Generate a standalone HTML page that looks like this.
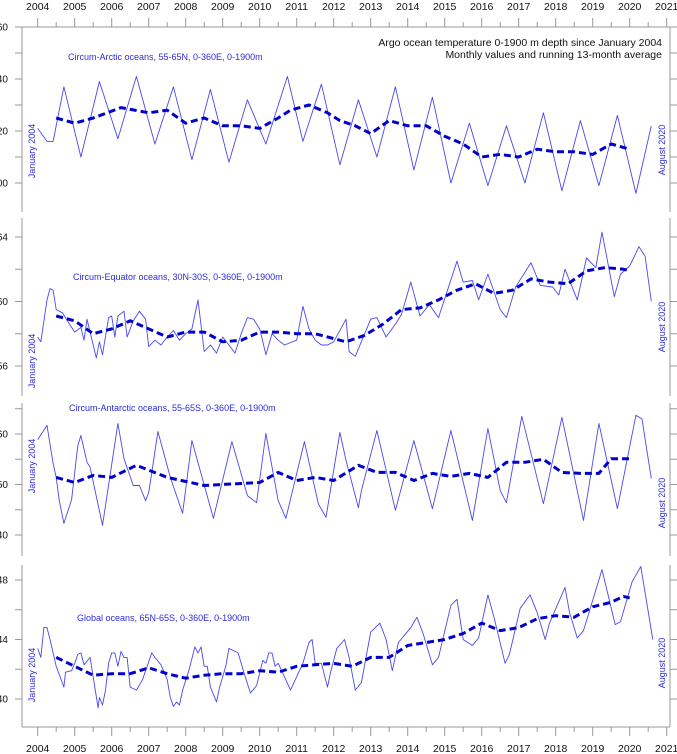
<!DOCTYPE html>
<html><head><meta charset="utf-8"><style>
body{margin:0;background:#fff;}
svg{display:block;font-family:"Liberation Sans",sans-serif;}
</style></head><body>
<svg id="chart" width="677" height="754" viewBox="0 0 677 754" xmlns="http://www.w3.org/2000/svg">
<text x="662" y="46" text-anchor="end" font-size="10.5" fill="#111">Argo ocean temperature 0-1900 m depth since January 2004</text>
<text x="662" y="58" text-anchor="end" font-size="10.5" fill="#111">Monthly values and running 13-month average</text>
<g id="axes"></g>
<g id="plots"></g>
</svg>
<script>
// ---- data (month index 0 = January 2004) ----
const years = [2004,2005,2006,2007,2008,2009,2010,2011,2012,2013,2014,2015,2016,2017,2018,2019,2020,2021];

const arcticMonths = [0,3,5,8.5,14,20,26,32,38,44,50,56,62,68,74,81,86,92,98,104,110,116,122,128,134,140,146,152,158,164,170,176,182,188,194,199];
const arcticValues = [3.21,3.16,3.16,3.37,3.10,3.39,3.17,3.41,3.15,3.37,3.09,3.36,3.08,3.32,3.15,3.41,3.16,3.38,3.07,3.32,3.10,3.37,3.05,3.33,3.00,3.23,2.99,3.22,3.00,3.27,2.97,3.24,2.99,3.26,2.96,3.22];
const arcticMeanMonths = [6,12,18,27,36,42,48,54,60,66,72,78,82,88,94,98,103,108,114,120,126,132,138,144,150,156,162,168,174,180,186,192];
const arcticMeanValues = [3.25,3.23,3.25,3.29,3.27,3.28,3.23,3.25,3.22,3.22,3.21,3.25,3.28,3.30,3.27,3.24,3.22,3.19,3.24,3.22,3.22,3.18,3.15,3.10,3.11,3.10,3.13,3.12,3.12,3.11,3.15,3.13];

const equatorMonths = [0,1,3,4,5,6,8,10,12,14,15,16,19,20,21,23,24,25,26,28,29,31,33,35,36,38,40,42,44,46,48,50,52,54,56,58,60,62,64,66,68,70,72,74,76,78,80,84,86,88,90,92,94,96,100,101,103,108,110,113,116,118,121,124,127,130,136,138,141,143,146,150,152,155,160,163,167,169,171,175,178,181,183,187,189,192,195,197,199];
const equatorValues = [6.578,6.575,6.601,6.608,6.607,6.595,6.593,6.587,6.581,6.584,6.576,6.589,6.565,6.575,6.567,6.590,6.591,6.578,6.591,6.594,6.578,6.588,6.594,6.589,6.572,6.576,6.573,6.578,6.582,6.576,6.580,6.583,6.601,6.569,6.573,6.568,6.578,6.573,6.568,6.580,6.590,6.589,6.583,6.567,6.580,6.576,6.573,6.576,6.597,6.583,6.576,6.573,6.573,6.575,6.589,6.569,6.566,6.589,6.590,6.578,6.586,6.592,6.612,6.591,6.598,6.590,6.625,6.612,6.613,6.601,6.617,6.595,6.590,6.609,6.624,6.610,6.609,6.604,6.620,6.601,6.627,6.621,6.643,6.603,6.617,6.622,6.634,6.628,6.600];
const equatorMeanMonths = [6,12,18,24,30,36,42,48,54,60,66,72,78,84,90,96,100,106,112,118,124,130,136,142,148,154,160,166,172,178,184,190,192];
const equatorMeanValues = [6.591,6.588,6.580,6.583,6.588,6.583,6.578,6.581,6.581,6.575,6.576,6.581,6.581,6.580,6.580,6.577,6.575,6.579,6.586,6.595,6.596,6.601,6.607,6.611,6.605,6.607,6.614,6.612,6.611,6.619,6.621,6.620,6.619];

const antarcticMonths = [0,3,5,6,7,8.5,11,13,14,16,17,21,26,28,31,33,35,36,37,39,43,47,50,57,63,68,71,74,78,80.5,86.5,91,93.5,98,100,104,105,110,116,122,128,134,141,146,150,152,157,164,170,177,182,188,194,196,197,199];
const antarcticValues = [1.589,1.617,1.542,1.514,1.468,1.423,1.470,1.577,1.597,1.544,1.534,1.419,1.621,1.551,1.498,1.498,1.468,1.484,1.524,1.605,1.514,1.443,1.587,1.433,1.585,1.478,1.464,1.601,1.468,1.433,1.585,1.462,1.435,1.603,1.548,1.454,1.488,1.607,1.449,1.587,1.452,1.607,1.429,1.611,1.488,1.464,1.635,1.462,1.633,1.429,1.621,1.452,1.637,1.630,1.590,1.512];
const antarcticMeanMonths = [6,12,18,24,32,42,54,66,72,78,84,90,96,104,110,116,122,128,134,140,146,152,158,164,170,176,182,186,192];
const antarcticMeanValues = [1.514,1.504,1.518,1.514,1.538,1.514,1.498,1.502,1.504,1.524,1.508,1.514,1.508,1.538,1.524,1.524,1.508,1.522,1.516,1.522,1.514,1.544,1.544,1.550,1.524,1.522,1.522,1.551,1.551];

const globalMonths = [0,1,2,3,4,6,8.5,9,11,12,13,14,15,17,19.6,20,21,22,23,24,25,26,27,28,29,30,32,34,36,37,38,40,42,43,44,45,46,47,49,51,52,53,54,55,56,58,59,61,62,65,67,69,71,73,74,75,76,77,78,80,82,84,86,88,89,90,92,94,95,97,99.5,101,103,105,108,111,113,115,117,121,123,125,128,130,134,136,138,141,143,146,148,151.6,153,156.5,159.7,162,164.6,166,171,172.5,175,177,183,187.3,189,192.8,195.6,199.5];
const globalValues = [2.434,2.428,2.448,2.448,2.440,2.422,2.408,2.418,2.419,2.424,2.430,2.431,2.423,2.428,2.394,2.401,2.396,2.406,2.424,2.431,2.431,2.422,2.432,2.428,2.428,2.408,2.406,2.413,2.425,2.431,2.428,2.423,2.413,2.401,2.395,2.398,2.396,2.406,2.419,2.435,2.431,2.435,2.422,2.422,2.408,2.398,2.408,2.422,2.434,2.431,2.417,2.404,2.409,2.426,2.424,2.431,2.431,2.422,2.424,2.415,2.406,2.415,2.424,2.438,2.440,2.424,2.424,2.408,2.418,2.434,2.440,2.428,2.406,2.411,2.445,2.451,2.440,2.419,2.438,2.448,2.455,2.444,2.423,2.428,2.463,2.467,2.440,2.436,2.441,2.470,2.455,2.424,2.430,2.461,2.470,2.458,2.440,2.451,2.475,2.458,2.441,2.446,2.487,2.450,2.452,2.479,2.489,2.440];
const globalMeanMonths = [6,12,18,24,30,36,42,48,54,60,66,72,78,84,90,96,102,108,114,120,126,132,138,144,150,156,162,168,174,180,186,190,192];
const globalMeanValues = [2.428,2.422,2.416,2.417,2.417,2.421,2.417,2.414,2.416,2.417,2.417,2.419,2.418,2.422,2.423,2.424,2.422,2.428,2.428,2.436,2.438,2.440,2.444,2.451,2.446,2.448,2.454,2.456,2.455,2.462,2.465,2.469,2.468];

const arcticTicks = [3.0,3.1,3.2,3.3,3.4,3.5,3.6];
const arcticTickLabels = ["3.00","","3.20","","3.40","","3.60"];
const equatorTicks = [6.54,6.56,6.58,6.60,6.62,6.64,6.66];
const equatorTickLabels = ["","6.56","","6.60","","6.64",""];
const antarcticTicks = [1.35,1.40,1.45,1.50,1.55,1.60,1.65];
const antarcticTickLabels = ["","1.40","","1.50","","1.60",""];
const globalTicks = [2.40,2.42,2.44,2.46,2.48];
const globalTickLabels = ["2.40","","2.44","","2.48"];

// ---- layout ----
const NS = "http://www.w3.org/2000/svg";
const X0 = 37.7, PX_PER_YEAR = 37, AXL = 22, AXR = 670;
function xScale(m){ return X0 + m/12*PX_PER_YEAR; }
function yearX(y){ return X0 + (y-2004)*PX_PER_YEAR; }
function lin(v0,y0,v1,y1){ return v => y0 + (v-v0)*(y1-y0)/(v1-v0); }
const axesG = document.getElementById('axes');
const plotsG = document.getElementById('plots');
function mk(tag, attrs, parent){ const e=document.createElementNS(NS,tag); for(const k in attrs) e.setAttribute(k,attrs[k]); (parent||axesG).appendChild(e); return e; }

const panels = [
 {key:'arctic', title:'Circum-Arctic oceans, 55-65N, 0-360E, 0-1900m', tx:68, ty:60, y:lin(3.0,183,3.6,27), top:27, bot:212, ticks:arcticTicks, labels:arcticTickLabels, m:arcticMonths, v:arcticValues, mm:arcticMeanMonths, mv:arcticMeanValues, jan:151, aug:150},
 {key:'equator', title:'Circum-Equator oceans, 30N-30S, 0-360E, 0-1900m', tx:73, ty:280, y:lin(6.56,366,6.64,237), top:218, bot:396, ticks:equatorTicks, labels:equatorTickLabels, m:equatorMonths, v:equatorValues, mm:equatorMeanMonths, mv:equatorMeanValues, jan:361, aug:327},
 {key:'antarctic', title:'Circum-Antarctic oceans, 55-65S, 0-360E, 0-1900m', tx:69, ty:411, y:lin(1.40,535,1.60,434), top:403, bot:556, ticks:antarcticTicks, labels:antarcticTickLabels, m:antarcticMonths, v:antarcticValues, mm:antarcticMeanMonths, mv:antarcticMeanValues, jan:466, aug:503},
 {key:'global', title:'Global oceans, 65N-65S, 0-360E, 0-1900m', tx:77, ty:621, y:lin(2.40,699,2.48,580), top:565, bot:727, ticks:globalTicks, labels:globalTickLabels, m:globalMonths, v:globalValues, mm:globalMeanMonths, mv:globalMeanValues, jan:675, aug:663}
];

// top & bottom x axes
[27,727].forEach((ay,i)=>{
  const l = mk('line',{x1:AXL,y1:ay,x2:AXR,y2:ay,stroke:'#999','stroke-width':1});
  
  
  years.forEach(yr=>{
    const x = yearX(yr);
    const dir = i===0?-1:1;
    const t = mk('line',{x1:x,y1:ay,x2:x,y2:ay+dir*9,stroke:'#999','stroke-width':1});
    
    
    if(yr<2021){
      const h = mk('line',{x1:x+PX_PER_YEAR/2,y1:ay,x2:x+PX_PER_YEAR/2,y2:ay+dir*5,stroke:'#999','stroke-width':1});
      
      
    }
    const tx = mk('text',{x:x,y:i===0?10:752,'text-anchor':'middle','font-size':10.5,fill:'#111'});
    tx.textContent = yr;
    
    
  });
});

panels.forEach(p=>{
  [AXL,AXR].forEach((ax,j)=>{
    const l = mk('line',{x1:ax,y1:p.top,x2:ax,y2:p.bot,stroke:'#999','stroke-width':1});
    
    
    p.ticks.forEach((tv,k)=>{
      const ty = p.y(tv);
      if(ty < p.top-1 || ty > p.bot+1) return;
      const t = mk('line',{x1:ax,y1:ty,x2:j===0?ax-7:ax+7,y2:ty,stroke:'#999','stroke-width':1});
      
      
      if(j===0 && p.labels[k]){
        const lab = mk('text',{x:8,y:ty+3.5,'text-anchor':'end','font-size':10,fill:'#111'});
        lab.textContent = p.labels[k];
        
        
      }
    });
  });
  const g = mk('g',{},plotsG);
  
  
  const title = mk('text',{x:p.tx,y:p.ty,'font-size':9,fill:'#2b2bdd'},g);
  title.textContent = p.title;
  
  
  const jan = mk('text',{x:0,y:0,'font-size':9,fill:'#2b2bdd','text-anchor':'middle',transform:`translate(35,${p.jan}) rotate(-90)`},g);
  jan.textContent = 'January 2004';
  
  
  const aug = mk('text',{x:0,y:0,'font-size':9,fill:'#2b2bdd','text-anchor':'middle',transform:`translate(665,${p.aug}) rotate(-90)`},g);
  aug.textContent = 'August 2020';
  
  
  const pts = p.m.map((m,i)=>xScale(m).toFixed(1)+','+p.y(p.v[i]).toFixed(1)).join(' ');
  const line = mk('polyline',{points:pts,fill:'none',stroke:'#4848f0','stroke-width':0.9,'stroke-linejoin':'round'},g);
  
  
  const mpts = p.mm.map((m,i)=>xScale(m).toFixed(1)+','+p.y(p.mv[i]).toFixed(1)).join(' ');
  const mean = mk('polyline',{points:mpts,fill:'none',stroke:'#0000cc','stroke-width':3,'stroke-dasharray':'7,4','stroke-linejoin':'round'},g);
  
  
});
</script>
</body></html>
